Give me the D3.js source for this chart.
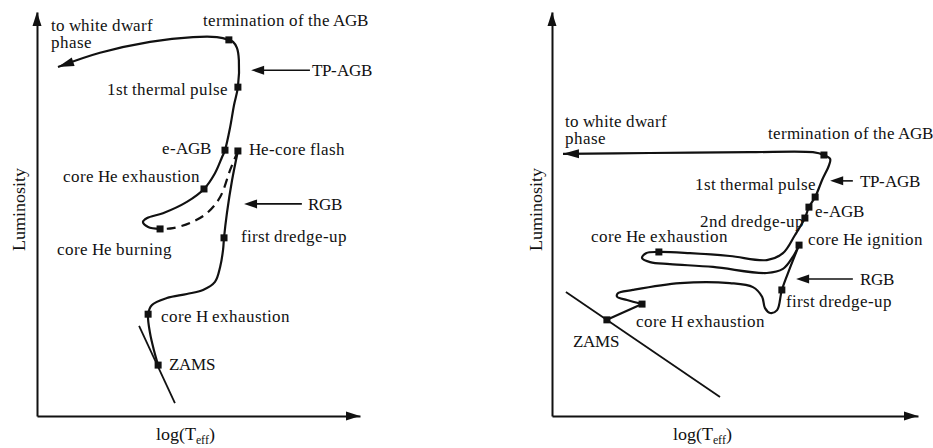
<!DOCTYPE html>
<html><head><meta charset="utf-8">
<script src="https://cdn.jsdelivr.net/npm/d3@7"></script>
<style>
@font-face{font-family:"ChartSerif";src:local("Liberation Serif"),local("LiberationSerif"),local("LiberationSerif-Regular"),local("Times New Roman"),local("TimesNewRomanPSMT"),local("DejaVu Serif"),local("DejaVuSerif");}
body{margin:0;background:#fff}
svg text{font-family:"ChartSerif","Liberation Serif","DejaVu Serif",serif}
</style>
</head><body>
<svg id="c" width="933" height="448"></svg>
<script>
// ---------- DATA (schematic units 0..100 on both axes of each panel) ----------
// Left panel: low-mass star
const leftMSRGB = [[37.5,12.6],[36.2,16.3],[35.0,20.5],[34.4,25.2],[35.6,27.5],[40.2,29.2],[46.4,30.2],[51.4,31.2],[55.1,33.2],[56.7,36.9],[57.6,41.1],[57.9,44.1],[58.8,50.2],[60.4,58.4],[62.2,65.6]];
const leftFlash = [[62.2,65.6],[59.8,60.9],[56.7,54.2],[52.6,50.2],[47.4,47.8],[42.1,46.5],[38.1,46.3]];
const leftHeAGB = [[38.1,46.3],[34.4,46.8],[32.8,48.0],[34.1,49.0],[39.0,50.2],[46.4,53.0],[51.7,56.2],[55.1,60.1],[57.3,64.1],[58.2,65.8],[59.8,71.5],[61.0,77.0],[62.2,81.4],[62.5,88.1],[61.9,91.1],[60.7,92.6],[59.4,93.1],[55.7,93.8],[48.3,93.8],[35.0,92.6],[19.5,89.9],[6.5,86.4]];
const leftZAMS = [[31.6,22.3],[42.7,3.2]];
const leftStages = [[37.5,12.6],[34.4,25.2],[57.9,44.1],[62.2,65.6],[38.1,46.3],[51.7,56.2],[58.2,65.8],[62.2,81.4],[59.4,93.1]];
const leftPointers = [["TP-AGB",66.3,85.6,84.5],["RGB",64.1,52.5,82.0]];
const leftLabels = [["to white dwarf",4.3,95.2],["phase",4.3,91.0],["termination of the AGB",51.4,96.5],["TP-AGB",85.1,84.2],["1st thermal pulse",21.7,79.5],["e-AGB",38.7,64.9],["He-core flash",65.6,64.6],["core He exhaustion",8.0,57.9],["RGB",83.9,51.0],["first dredge-up",63.2,43.1],["core He burning",6.2,39.9],["core H exhaustion",38.4,23.3],["ZAMS",40.9,11.4]];

// Right panel: intermediate-mass star
const rightMSHook = [[15.0,23.8],[24.6,27.7]];
const rightToIgnition = [[24.6,27.7],[20.5,28.7],[17.8,29.5],[18.0,30.4],[22.1,31.2],[35.0,32.9],[48.6,32.9],[54.9,31.9],[57.4,29.5],[58.2,26.7],[59.6,25.5],[61.5,26.2],[62.8,31.2],[65.0,36.6],[67.5,42.3]];
const rightLoopAGB = [[67.5,42.3],[65.8,39.4],[63.1,36.4],[58.7,35.4],[44.0,36.9],[32.2,37.6],[26.8,38.1],[24.6,39.1],[25.7,40.3],[29.2,40.6],[37.7,40.3],[48.6,39.6],[58.7,38.6],[63.1,40.3],[66.4,44.8],[69.1,49.0],[70.2,51.7],[71.9,54.2],[73.8,58.4],[75.7,62.1],[76.0,63.6],[74.3,64.6],[71.3,65.3],[54.1,65.3],[26.8,65.1],[3.0,64.9]];
const rightZAMS = [[3.8,30.7],[45.9,4.7]];
const rightStages = [[15.0,23.8],[24.6,27.7],[62.8,31.2],[67.5,42.3],[29.2,40.6],[69.1,49.0],[70.2,51.7],[71.9,54.2],[74.3,64.6]];
const rightPointers = [["TP-AGB",76.0,58.2,82.2],["RGB",66.7,33.9,82.2]];
const rightLabels = [["to white dwarf",3.6,71.5],["phase",3.6,67.3],["termination of the AGB",59.0,68.6],["TP-AGB",84.2,56.7],["1st thermal pulse",39.1,55.9],["e-AGB",71.9,49.3],["2nd dredge-up",40.4,46.8],["core He exhaustion",10.7,43.1],["core He ignition",69.9,42.3],["RGB",84.2,32.4],["first dredge-up",63.9,27.0],["core H exhaustion",23.0,22.0],["ZAMS",5.7,17.1]];

const axisTitles = {x:"log(T", xSub:"eff", y:"Luminosity"};

// ---------- DRAW ----------
const svg = d3.select("#c");
svg.append("rect").attr("width",933).attr("height",448).attr("fill","#fff");

function arrowHead(g, tip, from, len, hw){
  const dx = tip[0]-from[0], dy = tip[1]-from[1];
  const L = Math.hypot(dx,dy), ux = dx/L, uy = dy/L;
  const bx = tip[0]-ux*len, by = tip[1]-uy*len;
  g.append("path")
    .attr("d", `M${tip[0]},${tip[1]}L${bx-uy*hw},${by+ux*hw}L${bx+uy*hw},${by-ux*hw}Z`)
    .attr("fill","#111");
}

function drawPanel(p){
  const x = d3.scaleLinear().domain([0,100]).range(p.xRange);
  const y = d3.scaleLinear().domain([0,100]).range([416,12]);
  const g = svg.append("g");

  g.append("g").attr("transform",`translate(0,${y(0)})`)
    .call(d3.axisBottom(x).tickValues([]).tickSizeOuter(0));
  g.append("g").attr("transform",`translate(${x(0)},0)`)
    .call(d3.axisLeft(y).tickValues([]).tickSizeOuter(0));
  g.selectAll(".domain").attr("stroke","#111").attr("stroke-width",2);
  arrowHead(g,[x(100),y(0)],[x(0),y(0)],14,4.5);
  arrowHead(g,[x(0),y(100)],[x(0),y(0)],14,4.5);

  const line = d3.line().x(d=>x(d[0])).y(d=>y(d[1])).curve(d3.curveCatmullRom.alpha(0.5));
  const lin = d3.line().x(d=>x(d[0])).y(d=>y(d[1]));

  g.append("path").attr("d",lin(p.zams)).attr("fill","none").attr("stroke","#111").attr("stroke-width",1.8);

  p.solid.forEach(s=>{
    g.append("path").attr("d",(s.length===2?lin:line)(s)).attr("fill","none")
      .attr("stroke","#111").attr("stroke-width",2.2).attr("stroke-linejoin","round");
  });
  p.dashed.forEach(s=>{
    g.append("path").attr("d",line(s)).attr("fill","none")
      .attr("stroke","#111").attr("stroke-width",2.2).attr("stroke-dasharray","9,6");
  });
  const last = p.arrowTrack, n = last.length;
  arrowHead(g,[x(last[n-1][0]),y(last[n-1][1])],[x(last[n-2][0]),y(last[n-2][1])],16,4.5);

  g.selectAll("rect.st").data(p.stages).join("rect").attr("class","st")
    .attr("x",d=>x(d[0])-3.5).attr("y",d=>y(d[1])-3.5)
    .attr("width",7).attr("height",7).attr("fill","#111");

  p.pointers.forEach(a=>{
    g.append("line").attr("x1",x(a[1])+8).attr("y1",y(a[2])).attr("x2",x(a[3])).attr("y2",y(a[2]))
      .attr("stroke","#111").attr("stroke-width",1.6);
    arrowHead(g,[x(a[1]),y(a[2])],[x(a[3]),y(a[2])],13,4.5);
  });

  g.selectAll("text.lb").data(p.labels).join("text").attr("class","lb")
    .attr("x",d=>x(d[1])).attr("y",d=>y(d[2]))
    .attr("fill","#111").style("font-size","17.2px").text(d=>d[0]);

  const xt = g.append("text").attr("x",x(p.xTitle[0])).attr("y",y(p.xTitle[1]))
    .attr("fill","#111").attr("text-anchor","middle").style("font-size","17.5px");
  xt.append("tspan").text(axisTitles.x);
  xt.append("tspan").attr("dy",4).style("font-size","12px").text(axisTitles.xSub);
  xt.append("tspan").attr("dy",-4).text(")");

  g.append("text").attr("transform",`translate(${x(p.yTitle[0])},${y(p.yTitle[1])}) rotate(-90)`)
    .attr("fill","#111").attr("text-anchor","middle").style("font-size","18.2px").text(axisTitles.y);
}

drawPanel({
  xRange:[37,360], solid:[leftMSRGB,leftHeAGB], dashed:[leftFlash], arrowTrack:leftHeAGB,
  zams:leftZAMS, stages:leftStages, pointers:leftPointers, labels:leftLabels,
  xTitle:[46.1,-5.9], yTitle:[-3.7,51.0]
});
drawPanel({
  xRange:[552,918], solid:[rightMSHook,rightToIgnition,rightLoopAGB], dashed:[], arrowTrack:rightLoopAGB,
  zams:rightZAMS, stages:rightStages, pointers:rightPointers, labels:rightLabels,
  xTitle:[41.0,-5.9], yTitle:[-2.7,51.0]
});
</script>
</body></html>
